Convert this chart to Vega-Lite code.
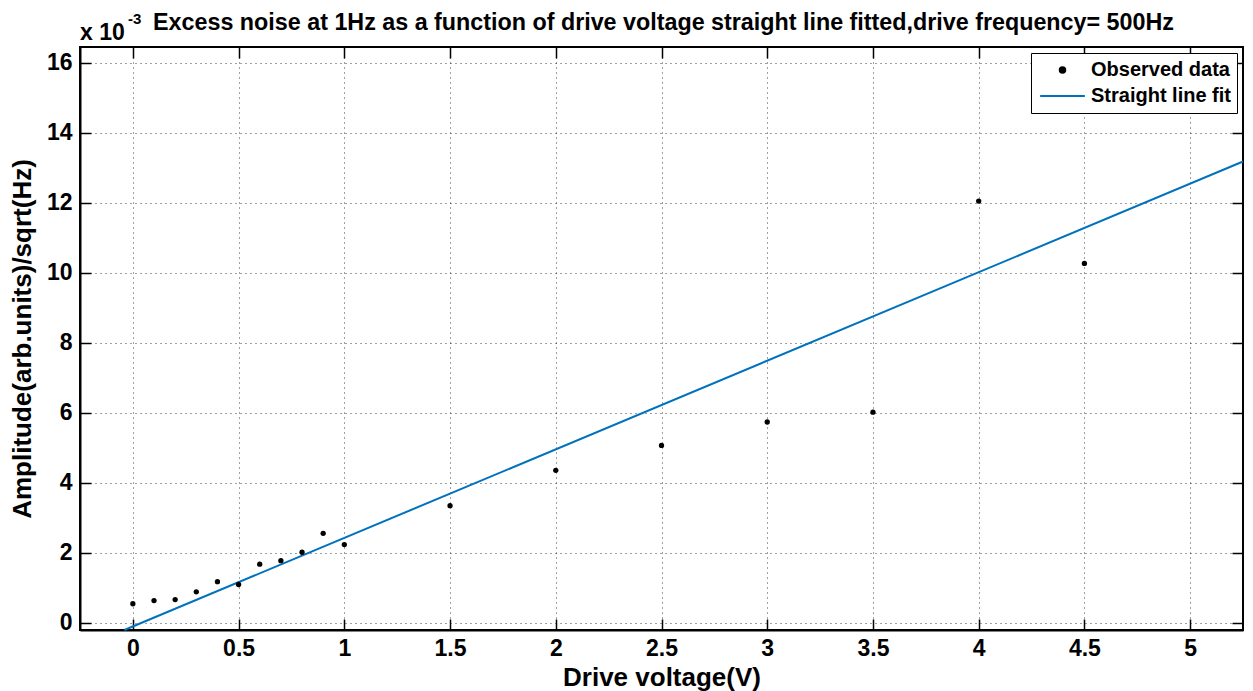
{
  "$schema": "https://vega.github.io/schema/vega-lite/v6.json",
  "width": 1163,
  "height": 583,
  "autosize": {"type": "none"},
  "padding": {"left": 80, "top": 47, "right": 10, "bottom": 61},
  "background": "white",
  "config": {
    "view": {"stroke": "black", "strokeWidth": 2},
    "font": "Liberation Sans"
  },
  "title": {
    "text": "Excess noise at 1Hz as a function of drive voltage straight line fitted,drive frequency= 500Hz",
    "font": "Liberation Sans",
    "fontSize": 23.3,
    "fontWeight": "bold",
    "color": "black",
    "anchor": "middle",
    "frame": "group",
    "baseline": "alphabetic",
    "offset": -41,
    "dx": 2
  },
  "datasets": {
    "obs": [
      {"v": 0.0, "amp": 0.55, "series": "Observed data"},
      {"v": 0.1, "amp": 0.64, "series": "Observed data"},
      {"v": 0.2, "amp": 0.67, "series": "Observed data"},
      {"v": 0.3, "amp": 0.89, "series": "Observed data"},
      {"v": 0.4, "amp": 1.18, "series": "Observed data"},
      {"v": 0.5, "amp": 1.10, "series": "Observed data"},
      {"v": 0.6, "amp": 1.68, "series": "Observed data"},
      {"v": 0.7, "amp": 1.78, "series": "Observed data"},
      {"v": 0.8, "amp": 2.02, "series": "Observed data"},
      {"v": 0.9, "amp": 2.56, "series": "Observed data"},
      {"v": 1.0, "amp": 2.24, "series": "Observed data"},
      {"v": 1.5, "amp": 3.35, "series": "Observed data"},
      {"v": 2.0, "amp": 4.36, "series": "Observed data"},
      {"v": 2.5, "amp": 5.07, "series": "Observed data"},
      {"v": 3.0, "amp": 5.74, "series": "Observed data"},
      {"v": 3.5, "amp": 6.02, "series": "Observed data"},
      {"v": 4.0, "amp": 12.05, "series": "Observed data"},
      {"v": 4.5, "amp": 10.27, "series": "Observed data"}
    ],
    "fit": [
      {"v": -0.04, "amp": -0.2, "series": "Straight line fit"},
      {"v": 5.25, "amp": 13.18, "series": "Straight line fit"}
    ],
    "note": [
      {"main": "x 10", "sup": "-3"}
    ]
  },
  "resolve": {"axis": {"x": "independent", "y": "independent"}},
  "layer": [
    {
      "data": {"name": "fit"},
      "mark": {"type": "line", "strokeWidth": 2},
      "encoding": {
        "x": {
          "field": "v", "type": "quantitative",
          "scale": {"domain": [-0.25, 5.25], "nice": false, "zero": false},
          "axis": {
            "orient": "bottom",
            "values": [0, 0.5, 1, 1.5, 2, 2.5, 3, 3.5, 4, 4.5, 5],
            "format": "~g",
            "grid": true, "gridDash": [1, 4], "gridColor": "#000", "gridOpacity": 0.75, "gridWidth": 1,
            "tickSize": -11, "tickColor": "black", "tickWidth": 1.5,
            "domainColor": "black", "domainWidth": 2,
            "labelFont": "Liberation Sans", "labelFontSize": 23, "labelFontWeight": "bold", "labelColor": "black",
            "labelPadding": 18,
            "title": "Drive voltage(V)",
            "titleFont": "Liberation Sans", "titleFontSize": 26, "titleFontWeight": "bold", "titleColor": "black",
            "titlePadding": 4
          }
        },
        "y": {
          "field": "amp", "type": "quantitative",
          "scale": {"domain": [-0.2, 16.45], "nice": false, "zero": false},
          "axis": {
            "orient": "left",
            "values": [0, 2, 4, 6, 8, 10, 12, 14, 16],
            "grid": true, "gridDash": [1, 4], "gridColor": "#000", "gridOpacity": 0.75, "gridWidth": 1,
            "tickSize": -11, "tickColor": "black", "tickWidth": 1.5,
            "domainColor": "black", "domainWidth": 2,
            "labelFont": "Liberation Sans", "labelFontSize": 23, "labelFontWeight": "bold", "labelColor": "black",
            "labelPadding": 19,
            "title": "Amplitude(arb.units)/sqrt(Hz)",
            "titleFont": "Liberation Sans", "titleFontSize": 26, "titleFontWeight": "bold", "titleColor": "black",
            "titlePadding": 11
          }
        },
        "color": {
          "field": "series", "type": "nominal",
          "scale": {"domain": ["Observed data", "Straight line fit"], "range": ["black", "#0072BD"]},
          "legend": {
            "title": null,
            "orient": "top-right",
            "offset": 6,
            "strokeColor": "black",
            "fillColor": "white",
            "padding": 6,
            "labelFont": "Liberation Sans", "labelFontSize": 20, "labelFontWeight": "bold", "labelColor": "black",
            "symbolSize": 484,
            "symbolType": "stroke",
            "symbolOffset": 2,
            "labelOffset": 5,
            "rowPadding": 4,
            "clipHeight": 22,
            "encode": {
              "symbols": {
                "update": {
                  "shape": {"signal": "datum.value === 'Observed data' ? 'circle' : 'stroke'"},
                  "size": {"signal": "datum.value === 'Observed data' ? 30 : 2000"},
                  "fill": {"signal": "datum.value === 'Observed data' ? 'black' : 'transparent'"},
                  "stroke": {"signal": "datum.value === 'Observed data' ? 'black' : '#0072BD'"},
                  "strokeWidth": {"value": 2},
                  "opacity": {"value": 1}
                }
              }
            }
          }
        }
      }
    },
    {
      "data": {"name": "obs"},
      "mark": {"type": "point", "filled": true, "size": 28, "opacity": 1},
      "encoding": {
        "x": {
          "field": "v", "type": "quantitative",
          "axis": {
            "orient": "top",
            "values": [0, 0.5, 1, 1.5, 2, 2.5, 3, 3.5, 4, 4.5, 5],
            "labels": false, "grid": false, "domain": false, "title": null,
            "tickSize": -11, "tickColor": "black", "tickWidth": 1.5
          }
        },
        "y": {
          "field": "amp", "type": "quantitative",
          "axis": {
            "orient": "right",
            "values": [0, 2, 4, 6, 8, 10, 12, 14, 16],
            "labels": false, "grid": false, "domain": false, "title": null,
            "tickSize": -11, "tickColor": "black", "tickWidth": 1.5
          }
        },
        "color": {"field": "series", "type": "nominal"}
      }
    },
    {
      "data": {"name": "note"},
      "mark": {"type": "text", "align": "left", "baseline": "alphabetic", "dy": -7, "font": "Liberation Sans", "fontSize": 23, "fontWeight": "bold", "color": "black"},
      "encoding": {
        "x": {"datum": -0.25, "type": "quantitative", "axis": null},
        "y": {"datum": 16.45, "type": "quantitative", "axis": null},
        "text": {"field": "main"}
      }
    },
    {
      "data": {"name": "note"},
      "mark": {"type": "text", "align": "left", "baseline": "alphabetic", "dx": 48, "dy": -23, "font": "Liberation Sans", "fontSize": 15, "fontWeight": "bold", "color": "black"},
      "encoding": {
        "x": {"datum": -0.25, "type": "quantitative", "axis": null},
        "y": {"datum": 16.45, "type": "quantitative", "axis": null},
        "text": {"field": "sup"}
      }
    }
  ]
}
